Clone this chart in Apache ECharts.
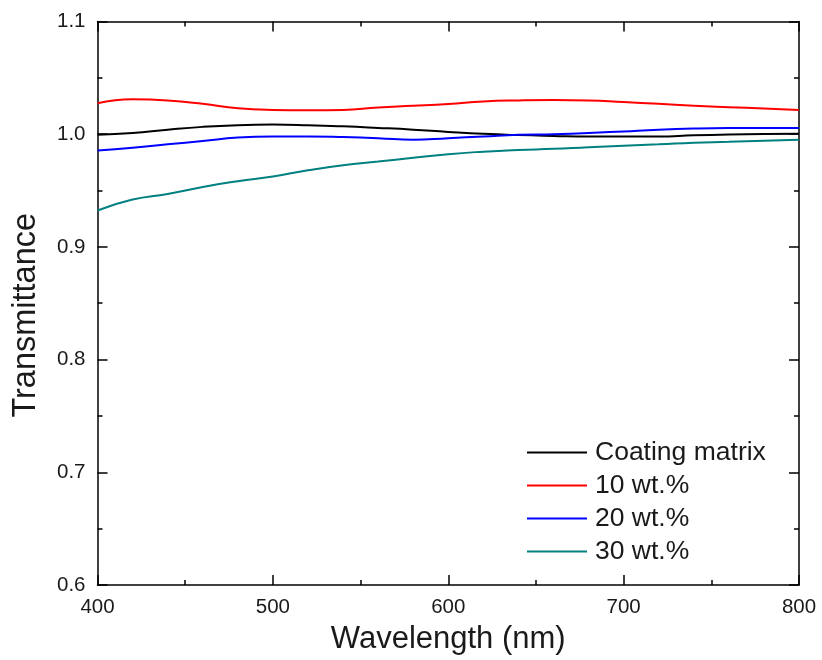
<!DOCTYPE html>
<html>
<head>
<meta charset="utf-8">
<script src="https://cdn.jsdelivr.net/npm/echarts@6/dist/echarts.min.js"></script>
<style>
  html, body { margin: 0; padding: 0; background: #fff; }
  #chart { width: 822px; height: 660px; }
</style>
</head>
<body>
<div id="chart"></div>
<script>
// wavelength (nm)
const wavelengths = [400, 420, 440, 460, 480, 500, 520, 540, 560, 580, 600, 620, 640, 660, 680, 700, 720, 740, 760, 780, 800];
// transmittance
const coatingMatrix = [0.9995, 1.001, 1.004, 1.0065, 1.008, 1.0085, 1.008, 1.007, 1.0056, 1.004, 1.002, 1.0003, 0.9992, 0.9985, 0.998, 0.998, 0.998, 0.999, 0.9997, 1.0002, 1.0005];
const wt10 = [1.0275, 1.031, 1.030, 1.027, 1.023, 1.0215, 1.0212, 1.0215, 1.0238, 1.0252, 1.0268, 1.029, 1.030, 1.0304, 1.030, 1.0285, 1.027, 1.0253, 1.024, 1.0228, 1.0215];
const wt20 = [0.9855, 0.988, 0.991, 0.994, 0.997, 0.998, 0.998, 0.9975, 0.9965, 0.995, 0.9965, 0.998, 0.9995, 1.000, 1.001, 1.0025, 1.004, 1.005, 1.0055, 1.0056, 1.0056];
const wt30 = [0.9323, 0.942, 0.947, 0.9532, 0.9583, 0.9625, 0.968, 0.9725, 0.9757, 0.979, 0.9823, 0.9845, 0.986, 0.987, 0.9885, 0.9898, 0.991, 0.9925, 0.9932, 0.9942, 0.995];

const seriesNames = ["Coating matrix", "10 wt.%", "20 wt.%", "30 wt.%"];
const seriesColors = ["#000000", "#ff0000", "#0000ff", "#008080"];
const seriesData = [coatingMatrix, wt10, wt20, wt30];

const fontFamily = "Liberation Sans, Arial, sans-serif";
const chart = echarts.init(document.getElementById("chart"));

function pairs(ys) {
  return wavelengths.map((x, i) => [x, ys[i]]);
}

const axisCommon = {
  axisLine: { show: true, onZero: false, lineStyle: { color: "#000", width: 1.5 } },
  axisTick: { show: true, inside: true, length: 10, lineStyle: { color: "#000", width: 1.5 } },
  minorTick: { show: true, splitNumber: 2, length: 5, lineStyle: { color: "#000", width: 1.5 } },
  splitLine: { show: false }
};

chart.setOption({
  animation: false,
  textStyle: { fontFamily: fontFamily },
  grid: { left: 97.5, right: 23, top: 21.5, bottom: 74.5 },
  legend: {
    data: seriesNames.map(n => ({ name: n, icon: "rect" })),
    orient: "vertical",
    left: 527,
    top: 439,
    padding: 0,
    itemWidth: 60,
    itemHeight: 2,
    itemGap: 6,
    textStyle: { fontSize: 26.5, color: "#1a1a1a", fontFamily: fontFamily, padding: [0, 0, 0, 3] }
  },
  xAxis: [
    Object.assign({}, axisCommon, {
      type: "value",
      min: 400,
      max: 800,
      interval: 100,
      name: "Wavelength (nm)",
      nameLocation: "middle",
      nameGap: 39,
      nameTextStyle: { fontSize: 31, color: "#1a1a1a" },
      axisLabel: { fontSize: 20.5, color: "#1a1a1a", margin: 12 }
    }),
    Object.assign({}, axisCommon, {
      type: "value",
      position: "top",
      min: 400,
      max: 800,
      interval: 100,
      axisLabel: { show: false }
    })
  ],
  yAxis: [
    Object.assign({}, axisCommon, {
      type: "value",
      min: 0.6,
      max: 1.1,
      interval: 0.1,
      name: "Transmittance",
      nameLocation: "middle",
      nameGap: 55,
      nameTextStyle: { fontSize: 32.5, color: "#1a1a1a", padding: [0, 24, 0, 0] },
      axisLabel: { fontSize: 20.5, color: "#1a1a1a", margin: 12, formatter: v => v.toFixed(1) }
    }),
    Object.assign({}, axisCommon, {
      type: "value",
      position: "right",
      min: 0.6,
      max: 1.1,
      interval: 0.1,
      axisLabel: { show: false }
    })
  ],
  series: seriesNames.map((name, i) => ({
    name: name,
    type: "line",
    data: pairs(seriesData[i]),
    smooth: true,
    symbol: "none",
    lineStyle: { color: seriesColors[i], width: 2 },
    itemStyle: { color: seriesColors[i] }
  }))
});
</script>
</body>
</html>
